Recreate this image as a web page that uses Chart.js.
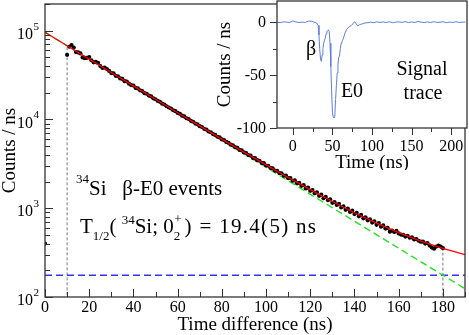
<!DOCTYPE html>
<html>
<head>
<meta charset="utf-8">
<script src="https://cdn.jsdelivr.net/npm/chart.js@4.4.0/dist/chart.umd.min.js"></script>
<style>
  html, body { margin: 0; padding: 0; background: #fff; }
  #wrap { position: relative; width: 469px; height: 335px; }
  #main { position: absolute; left: 0; top: 0; }
  #inset { position: absolute; left: 200px; top: 0; }
</style>
</head>
<body>
<div id="wrap">
  <canvas id="main" width="469" height="335"></canvas>
  <canvas id="inset" width="269" height="170"></canvas>
</div>
<script>
// decay curve: beta-E0 events per ns vs time difference
const eventTimes = [0,
  10,11,12,13,14,15,16,17,18,19,20,21,22,23,24,25,26,27,28,29,
  30,31,32,33,34,35,36,37,38,39,40,41,42,43,44,45,46,47,48,49,
  50,51,52,53,54,55,56,57,58,59,60,61,62,63,64,65,66,67,68,69,
  70,71,72,73,74,75,76,77,78,79,80,81,82,83,84,85,86,87,88,89,
  90,91,92,93,94,95,96,97,98,99,100,101,102,103,104,105,106,107,108,109,
  110,111,112,113,114,115,116,117,118,119,120,121,122,123,124,125,126,127,128,129,
  130,131,132,133,134,135,136,137,138,139,140,141,142,143,144,145,146,147,148,149,
  150,151,152,153,154,155,156,157,158,159,160,161,162,163,164,165,166,167,168,169,
  170,171,172,173,174,175,176,177,178,179,180];
const eventCounts = [400,
  53500,66000,69000,64500,57500,57000,55500,50000,49000,49500,50500,46500,44000,44500,43500,40000,38000,38500,37000,35200,
  33300,33100,31000,30700,29000,28600,27000,26800,25300,24400,24100,22700,22400,21300,20900,19800,19500,18600,18200,17300,
  16900,16200,15800,15050,14750,14100,13650,13300,12700,12420,11850,11600,11050,10820,10330,10100,9650,9430,9000,8810,
  8400,8230,7850,7700,7320,7180,6850,6700,6390,6270,5960,5860,5580,5470,5200,5120,4870,4790,4540,4480,
  4250,4190,3970,3920,3700,3670,3480,3430,3240,3220,3030,3010,2840,2820,2650,2640,2490,2480,2330,2330,
  2180,2190,2040,2060,1910,1930,1790,1820,1670,1710,1570,1600,1480,1510,1380,1420,1300,1340,1230,1260,
  1150,1170,1090,1120,1020,1050,960,990,910,940,860,890,810,840,770,790,730,750,690,710,
  650,680,620,640,590,600,545,560,540,555,520,505,500,480,490,465,470,445,450,430,
  420,420,400,405,380,360,350,370,380,370,355];

// fitted curve (exponential + background), its two components, and fit window edges
const fitTimes  = [0,10,20,30,40,50,60,70,80,90,100,110,120,130,140,150,160,170,180,190];
const fitCounts = [96200,67800,47900,33800,23900,16900,11900,8460,6010,4290,3080,2220,1620,1190,890,680,530,426,352,300];
const expTimes  = [0,190];
const expCounts = [96000,124];
const bgTimes   = [0,190];
const bgCounts  = [176,176];
const cutTimes  = [10,180];
const cutTops   = [65000,360];

// inset: signal trace
const traceTime = [-20,-16,-12,-8,-4,0,4,8,12,16,20,24,28,30,32,33,34,35,36,37,38,39,40,41,42,43,44,45,46,47,48,
  49,50,51,52,53,54,55,56,57,58,59,60,61,62,63,64,66,68,70,72,74,76,78,80,82,84,86,88,90,94,98,102,106,110,
  114,118,122,126,130,134,138,142,146,150,154,158,162,166,170,174,178,182,186,190,194,198,202,206,210,214,218];
const traceSignal = [0,-0.5,0.3,0,-0.4,1.2,0.2,-0.3,0,-0.2,1.0,0.8,-0.3,-0.8,-3,-12,-26,-35,-37,-31,-25,-20,-17,-15,-11,-8.5,-8,-7.5,-9,-20,-42,
  -65,-85,-90,-90,-89,-73,-60,-48,-40,-33,-32,-25,-20,-18,-17,-15,-10,-7,-5,-4,-3,-1.5,0.5,-1.5,-3.5,-2.5,-2,-1.5,-1,-0.5,0,-0.5,0.3,-0.2,
  0.2,-0.3,0.4,-0.5,0,0.3,-0.2,0.5,-0.4,0.2,-0.3,0.6,0,-0.4,0.2,-0.3,0.5,-0.2,0,0.4,-0.5,0.1,-0.3,0.4,-0.2,0,0.2];

const serif = "'Liberation Serif', 'Times New Roman', serif";

function pts(xs, ys) { return xs.map((x, i) => ({ x: x, y: ys[i] })); }

// draw a run of text pieces with sub/superscripts; returns end x
function rich(ctx, x, y, parts) {
  ctx.textBaseline = 'alphabetic';
  ctx.textAlign = 'left';
  for (const p of parts) {
    ctx.font = p.s + 'px ' + serif;
    ctx.letterSpacing = (p.ls || 0) + 'px';
    ctx.fillText(p.t, x, y + (p.dy || 0));
    x += ctx.measureText(p.t).width + (p.gap || 0);
  }
  ctx.letterSpacing = '0px';
  return x;
}

const mainDeco = {
  id: 'mainDeco',
  beforeDraw(chart) {
    const c = chart.ctx;
    c.save();
    c.fillStyle = '#fff';
    c.fillRect(0, 0, chart.width, chart.height);
    c.restore();
  },
  afterDraw(chart) {
    const c = chart.ctx, a = chart.chartArea;
    const xs = chart.scales.x, ys = chart.scales.y;
    c.save();
    c.strokeStyle = '#333';
    c.lineWidth = 1.3;
    c.strokeRect(a.left, a.top, a.right - a.left, a.bottom - a.top);
    c.lineWidth = 1;
    c.beginPath();
    // x ticks, inward
    for (let v = 0; v <= 190; v += 10) {
      const px = Math.round(xs.getPixelForValue(v)) + 0.5;
      const len = v % 20 === 0 ? 8 : 5;
      c.moveTo(px, a.bottom); c.lineTo(px, a.bottom - len);
    }
    // y ticks, inward
    for (let e = 2; e <= 5; e++) {
      for (let m = 1; m <= 9; m++) {
        const v = m * Math.pow(10, e);
        if (v > 200000) break;
        const py = Math.round(ys.getPixelForValue(v)) + 0.5;
        const len = m === 1 ? 8 : 5;
        c.moveTo(a.left, py); c.lineTo(a.left + len, py);
      }
    }
    c.stroke();

    c.fillStyle = '#000';
    c.font = '16px ' + serif;
    c.textAlign = 'center';
    c.textBaseline = 'middle';
    for (let v = 0; v <= 180; v += 20) {
      c.fillText(String(v), xs.getPixelForValue(v), 308);
    }
    for (let e = 2; e <= 5; e++) {
      const py = ys.getPixelForValue(Math.pow(10, e));
      c.font = '16px ' + serif;
      c.textAlign = 'right';
      c.fillText('10', 33, py + 4);
      c.font = '11px ' + serif;
      c.textAlign = 'left';
      c.fillText(String(e), 33.5, py - 4);
    }

    c.font = '19px ' + serif;
    c.textAlign = 'center';
    c.fillText('Time difference (ns)', (a.left + a.right) / 2, 325);
    c.save();
    c.translate(10, (a.top + a.bottom) / 2);
    c.rotate(-Math.PI / 2);
    c.fillText('Counts / ns', 0, 0);
    c.restore();

    rich(c, 76, 195, [
      { t: '34', s: 13, dy: -12 }, { t: 'Si', s: 21 }, { t: '   \u03b2-E0 events', s: 21 }
    ]);
    rich(c, 80, 233, [
      { t: 'T', s: 21 }, { t: '1/2', s: 13, dy: 7 }, { t: '( ', s: 21 }, { t: '34', s: 13, dy: -9 },
      { t: 'Si; 0', s: 21 }, { t: '2', s: 13, dy: 7, gap: -6 }, { t: '+', s: 13, dy: -10, gap: 3 },
      { t: ') = 19.4(5) ns', s: 21, ls: 1.3 }
    ]);
    c.restore();
  }
};

new Chart(document.getElementById('main'), {
  type: 'line',
  data: {
    datasets: [{
      data: pts(fitTimes, fitCounts),
      borderColor: '#ff0000',
      borderWidth: 1.3,
      pointRadius: 0,
      order: 0
    }, {
      data: pts(eventTimes, eventCounts),
      showLine: false,
      pointRadius: 2.1,
      pointBorderWidth: 0,
      pointBackgroundColor: '#000',
      order: 1
    }, {
      data: pts(expTimes, expCounts),
      borderColor: '#22e022',
      borderWidth: 1.4,
      borderDash: [7, 4],
      pointRadius: 0,
      order: 2
    }, {
      data: pts(bgTimes, bgCounts),
      borderColor: '#3333ff',
      borderWidth: 1.4,
      borderDash: [7, 4],
      pointRadius: 0,
      order: 3
    }, {
      data: [{ x: cutTimes[0], y: cutTops[0] }, { x: cutTimes[0], y: 100 }],
      borderColor: '#777',
      borderWidth: 1,
      borderDash: [3, 2],
      pointRadius: 0,
      order: 4
    }, {
      data: [{ x: cutTimes[1], y: cutTops[1] }, { x: cutTimes[1], y: 100 }],
      borderColor: '#777',
      borderWidth: 1,
      borderDash: [3, 2],
      pointRadius: 0,
      order: 4
    }]
  },
  options: {
    responsive: false,
    animation: false,
    layout: { padding: { top: 1, right: 2, left: 0, bottom: 0 } },
    plugins: { legend: { display: false }, tooltip: { enabled: false } },
    scales: {
      x: {
        type: 'linear', min: 0, max: 190,
        ticks: { display: false }, grid: { display: false }, border: { display: false },
        afterFit(s) { s.height = 38; }
      },
      y: {
        type: 'logarithmic', min: 100, max: 200000,
        ticks: { display: false }, grid: { display: false }, border: { display: false },
        afterFit(s) { s.width = 45; }
      }
    }
  },
  plugins: [mainDeco]
});

const insetDeco = {
  id: 'insetDeco',
  beforeDatasetsDraw(chart) {
    const c = chart.ctx, a = chart.chartArea;
    c.save();
    c.fillStyle = '#fff';
    c.fillRect(a.left, a.top, a.right - a.left, a.bottom - a.top);
    c.restore();
  },
  afterDraw(chart) {
    const c = chart.ctx, a = chart.chartArea;
    const xs = chart.scales.x, ys = chart.scales.y;
    c.save();
    c.strokeStyle = '#333';
    c.lineWidth = 1.3;
    c.strokeRect(a.left, a.top, a.right - a.left, a.bottom - a.top);
    c.lineWidth = 1;
    c.beginPath();
    for (let v = 0; v <= 200; v += 25) {
      const px = Math.round(xs.getPixelForValue(v)) + 0.5;
      const len = v % 50 === 0 ? 7 : 4;
      c.moveTo(px, a.bottom); c.lineTo(px, a.bottom + len);
    }
    for (let v = -100; v <= 0; v += 25) {
      const py = Math.round(ys.getPixelForValue(v)) + 0.5;
      const len = v % 50 === 0 ? 7 : 4;
      c.moveTo(a.left, py); c.lineTo(a.left - len, py);
    }
    c.stroke();

    c.fillStyle = '#000';
    c.font = '16px ' + serif;
    c.textBaseline = 'middle';
    c.textAlign = 'center';
    for (let v = 0; v <= 200; v += 50) {
      c.fillText(String(v), xs.getPixelForValue(v), a.bottom + 19);
    }
    c.textAlign = 'right';
    for (let v = -100; v <= 0; v += 50) {
      c.fillText(String(v), a.left - 11, ys.getPixelForValue(v) + 1);
    }
    c.font = '19px ' + serif;
    c.textAlign = 'center';
    c.fillText('Time (ns)', (a.left + a.right) / 2, a.bottom + 35);
    c.save();
    c.translate(25, (a.top + a.bottom) / 2);
    c.rotate(-Math.PI / 2);
    c.fillText('Counts / ns', 0, 0);
    c.restore();

    c.font = '20px ' + serif;
    c.fillText('\u03b2', 111, 50);
    c.fillText('E0', 152, 92);
    c.fillText('Signal', 222, 70);
    c.fillText('trace', 223, 94);
    c.restore();
  }
};

new Chart(document.getElementById('inset'), {
  type: 'line',
  data: {
    datasets: [{
      data: pts(traceTime, traceSignal),
      borderColor: '#5f7fe0',
      borderWidth: 1,
      pointRadius: 0
    }]
  },
  options: {
    responsive: false,
    animation: false,
    layout: { padding: { top: 1, right: 2, left: 0, bottom: 0 } },
    plugins: { legend: { display: false }, tooltip: { enabled: false } },
    scales: {
      x: {
        type: 'linear', min: -20, max: 220,
        ticks: { display: false }, grid: { display: false }, border: { display: false },
        afterFit(s) { s.height = 42; }
      },
      y: {
        type: 'linear', min: -100, max: 20,
        ticks: { display: false }, grid: { display: false }, border: { display: false },
        afterFit(s) { s.width = 77; }
      }
    }
  },
  plugins: [insetDeco]
});
</script>
</body>
</html>
